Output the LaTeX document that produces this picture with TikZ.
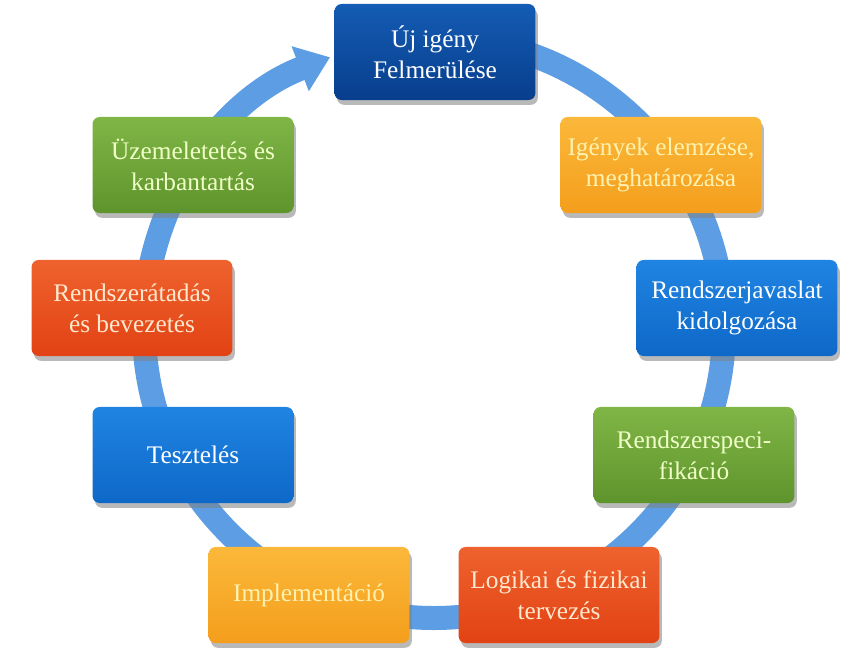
\documentclass[tikz,border=0pt]{standalone}
\usepackage{fontspec}
\setmainfont{Liberation Serif}
\usetikzlibrary{positioning,shadows,arrows.meta,backgrounds}

\definecolor{ringblue}{RGB}{92,157,228}
\definecolor{navytop}{RGB}{20,92,180}
\definecolor{navybot}{RGB}{8,62,140}
\definecolor{azuretop}{RGB}{32,132,226}
\definecolor{azurebot}{RGB}{14,104,200}
\definecolor{ambertop}{RGB}{251,184,58}
\definecolor{amberbot}{RGB}{244,158,28}
\definecolor{leaftop}{RGB}{128,182,70}
\definecolor{leafbot}{RGB}{94,148,44}
\definecolor{flametop}{RGB}{238,98,46}
\definecolor{flamebot}{RGB}{226,66,20}

\tikzstyle{phase} = [rectangle, rounded corners=5pt, minimum width=5.02cm, minimum height=2.4cm, text centered, align=center, font=\fontsize{18}{22}\selectfont, drop shadow={opacity=0.55, shadow xshift=0.6mm, shadow yshift=-1.2mm}]
\tikzstyle{navy} = [top color=navytop, bottom color=navybot, text=white]
\tikzstyle{azure} = [top color=azuretop, bottom color=azurebot, text=white]
\tikzstyle{amber} = [top color=ambertop, bottom color=amberbot, text={rgb,255:red,255;green,242;blue,175}]
\tikzstyle{leaf} = [top color=leaftop, bottom color=leafbot, text={rgb,255:red,240;green,255;blue,200}]
\tikzstyle{flame} = [top color=flametop, bottom color=flamebot, text={rgb,255:red,255;green,232;blue,205}]
\tikzstyle{ring} = [line width=0.6cm, draw=ringblue, -{Triangle[width=1.15cm,length=0.8cm]}]

\begin{document}
\begin{tikzpicture}[x=0.025cm, y=0.025cm]
\useasboundingbox (0,0) rectangle (854,-659);

\coordinate (hub) at (434,-328);

\node (uj) [phase, navy] at (435,-52) {Új igény\\Felmerülése};
\node (igeny) [phase, amber] at (661,-165) {Igények elemzése,\\meghatározása};
\node (javaslat) [phase, azure] at (737,-308) {Rendszerjavaslat\\kidolgozása};
\node (spec) [phase, leaf] at (694,-455) {Rendszerspeci-\\fikáció};
\node (logikai) [phase, flame] at (559,-595) {Logikai és fizikai\\tervezés};
\node (impl) [phase, amber] at (309,-595) {Implementáció};
\node (teszt) [phase, azure] at (193,-455) {Tesztelés};
\node (atadas) [phase, flame] at (132,-308) {Rendszerátadás\\és bevezetés};
\node (uzem) [phase, leaf] at (193,-165) {Üzemeletetés és\\karbantartás};

% Ring
\begin{scope}[on background layer]
\draw [ring] (hub) ++(90:290) arc[start angle=90, end angle=-249, radius=290];
\end{scope}

\end{tikzpicture}
\end{document}
